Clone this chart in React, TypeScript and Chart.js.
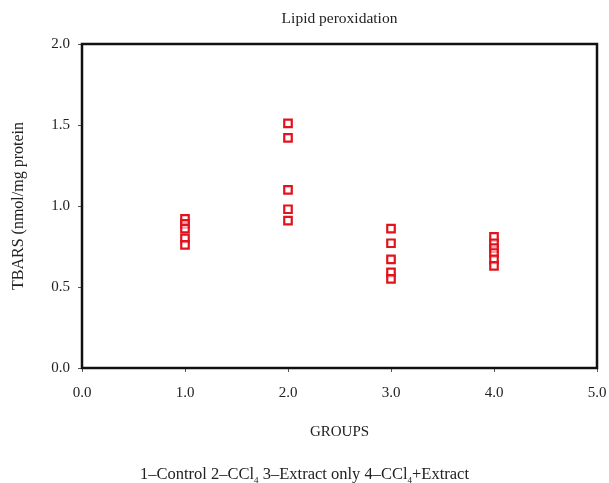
import React, { useEffect, useRef } from "react";
import { Chart, registerables } from "chart.js";
Chart.register(...registerables);

const groups = [1, 2, 3, 4];
const group1 = [0.92, 0.89, 0.86, 0.8, 0.76];
const group2 = [1.51, 1.42, 1.1, 0.98, 0.91];
const group3 = [0.86, 0.77, 0.67, 0.59, 0.55];
const group4 = [0.81, 0.77, 0.74, 0.71, 0.67, 0.63];
const groupValues = [group1, group2, group3, group4];
const xTickValues = [0, 1, 2, 3, 4, 5];
const yTickValues = [0, 0.5, 1, 1.5, 2];

const FONT = "'Liberation Serif', 'Times New Roman', serif";
const RED = "#e3121c";

const frame = {
  id: "frame",
  afterDatasetsDraw(chart: any) {
    const { ctx, chartArea } = chart;
    ctx.save();
    ctx.strokeStyle = "#111";
    ctx.lineWidth = 2.5;
    ctx.strokeRect(chartArea.left, chartArea.top, chartArea.right - chartArea.left, chartArea.bottom - chartArea.top);
    ctx.restore();
  },
};

export default function App() {
  const ref = useRef<HTMLCanvasElement>(null);
  useEffect(() => {
    const points: { x: number; y: number }[] = [];
    groups.forEach((g, i) => groupValues[i].forEach((v) => points.push({ x: g, y: v })));
    const chart = new Chart(ref.current!, {
      type: "scatter",
      data: {
        datasets: [
          {
            data: points,
            pointStyle: "rect",
            pointRadius: 5.3,
            pointBorderWidth: 2.2,
            borderColor: RED,
            backgroundColor: "rgba(255,255,255,0.6)",
          },
        ],
      },
      plugins: [frame],
      options: {
        animation: false,
        responsive: false,
        layout: { padding: { left: 0, right: 12, top: 0, bottom: 35 } },
        plugins: {
          legend: { display: false },
          tooltip: { enabled: false },
          title: {
            display: true,
            text: "Lipid peroxidation",
            fullSize: false,
            color: "#222",
            font: { family: FONT, size: 15.5, weight: "normal" },
            padding: { top: 10, bottom: 15.4 },
          },
        },
        scales: {
          x: {
            type: "linear",
            min: 0,
            max: 5,
            afterFit: (s: any) => {
              s.height = 80;
              s.paddingLeft = 0;
              s.paddingRight = 0;
            },
            afterBuildTicks: (s: any) => {
              s.ticks = xTickValues.map((v) => ({ value: v }));
            },
            ticks: {
              color: "#222",
              font: { family: FONT, size: 15 },
              padding: 12,
              maxRotation: 0,
              callback: (v: any) => Number(v).toFixed(1),
            },
            grid: { drawOnChartArea: false, drawTicks: true, tickLength: 4, color: "#555" },
            border: { display: true, color: "#111", width: 2 },
            title: {
              display: true,
              text: "GROUPS",
              color: "#222",
              font: { family: FONT, size: 15 },
              padding: { top: 0, bottom: 7 },
            },
          },
          y: {
            type: "linear",
            min: 0,
            max: 2,
            afterFit: (s: any) => {
              s.width = 82;
              s.paddingTop = 0;
              s.paddingBottom = 0;
            },
            afterBuildTicks: (s: any) => {
              s.ticks = yTickValues.map((v) => ({ value: v }));
            },
            ticks: {
              color: "#222",
              font: { family: FONT, size: 15 },
              padding: 8,
              callback: (v: any) => Number(v).toFixed(1),
            },
            grid: { drawOnChartArea: false, drawTicks: true, tickLength: 4, color: "#555" },
            border: { display: true, color: "#111", width: 2 },
            title: {
              display: true,
              text: "TBARS (nmol/mg protein",
              color: "#222",
              font: { family: FONT, size: 16 },
              padding: { top: 9, bottom: 0 },
            },
          },
        },
      },
    } as any);
    return () => chart.destroy();
  }, []);

  return (
    <div style={{ position: "fixed", left: 0, top: 0, width: 609, height: 483, background: "#fff" }}>
      <canvas ref={ref} width={609} height={483} style={{ width: 609, height: 483, display: "block" }} />
      <div
        style={{
          position: "absolute",
          left: 0,
          width: 609,
          top: 464,
          textAlign: "center",
          fontFamily: FONT,
          fontSize: 16.5,
          color: "#222",
          lineHeight: "20px",
        }}
      >
        1–Control 2–CCl<sub style={{ fontSize: 9 }}>4</sub> 3–Extract only 4–CCl<sub style={{ fontSize: 9 }}>4</sub>+Extract
      </div>
    </div>
  );
}
